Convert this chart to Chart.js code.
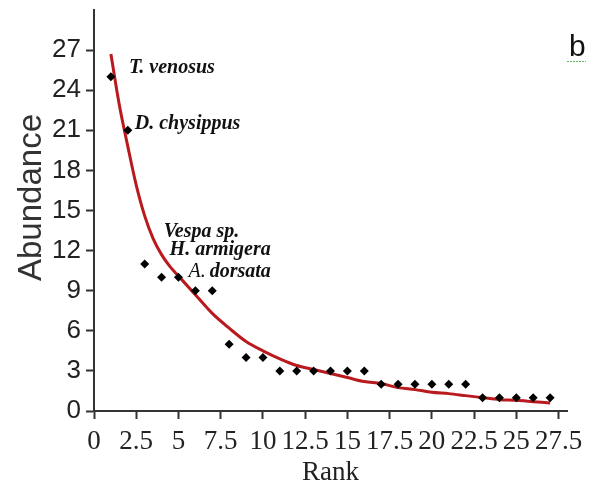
<!DOCTYPE html>
<html>
<head>
<meta charset="utf-8">
<script src="https://cdn.jsdelivr.net/npm/chart.js@4.4.1/dist/chart.umd.min.js"></script>
<style>
  html, body { margin: 0; padding: 0; background: #fff; }
  #wrap { width: 597px; height: 489px; position: relative; }
</style>
</head>
<body>
<div id="wrap"><canvas id="rankChart"></canvas></div>
<script>
// observed abundance per rank
const ranks = [1, 2, 3, 4, 5, 6, 7, 8, 9, 10, 11, 12, 13, 14, 15, 16, 17, 18, 19, 20, 21, 22, 23, 24, 25, 26, 27];
const abundance = [25, 21, 11, 10, 10, 9, 9, 5, 4, 4, 3, 3, 3, 3, 3, 3, 2, 2, 2, 2, 2, 2, 1, 1, 1, 1, 1];

// fitted curve
const fitRank = [1, 1.5, 2, 2.5, 3, 3.5, 4, 4.5, 5, 6, 7, 8, 9, 10, 11, 12, 13, 14, 15, 16, 17, 18, 19, 20, 21, 22, 23, 24, 25, 26, 27];
const fitValue = [26.7, 22.9, 19.8, 16.9, 14.6, 12.9, 11.7, 10.8, 10.1, 8.7, 7.3, 6.2, 5.2, 4.5, 3.9, 3.4, 3.1, 2.8, 2.5, 2.2, 2.05, 1.75, 1.6, 1.4, 1.3, 1.15, 1.0, 0.85, 0.8, 0.7, 0.6];

// species labels and the rank they belong to
const speciesNames = ['T. venosus', 'D. chysippus', 'Vespa sp.', 'H. armigera', 'A. dorsata'];
const speciesRanks = [1, 2, 3, 4, 5];

const labelOffsets = [[18, -4], [7, -1], [19, -27], [8, -22], [10, 0]];

const labelPlugin = {
    id: 'speciesLabels',
    afterDatasetsDraw(chart) {
        const ctx = chart.ctx;
        const xs = chart.scales.x;
        const ys = chart.scales.y;
        const area = chart.chartArea;
        ctx.save();
        ctx.fillStyle = '#111';
        ctx.textBaseline = 'alphabetic';
        ctx.textAlign = 'left';
        speciesNames.forEach((name, i) => {
            const r = speciesRanks[i];
            const px = xs.getPixelForValue(r) + labelOffsets[i][0];
            const py = ys.getPixelForValue(abundance[r - 1]) + labelOffsets[i][1];
            if (name.startsWith('A. ')) {
                ctx.font = 'italic 20px "Liberation Serif"';
                ctx.fillText('A. ', px, py);
                const w = ctx.measureText('A. ').width;
                ctx.font = 'bold italic 20px "Liberation Serif"';
                ctx.fillText(name.slice(3), px + w - 1, py);
            } else {
                ctx.font = 'bold italic 20px "Liberation Serif"';
                ctx.fillText(name, px, py);
            }
        });

        // y axis title, sits a bit above the middle of the axis
        ctx.save();
        ctx.translate(41, (area.top + area.bottom) / 2 - 13);
        ctx.rotate(-Math.PI / 2);
        ctx.textAlign = 'center';
        ctx.font = '33px "Liberation Sans"';
        ctx.fillStyle = '#333';
        ctx.fillText('Abundance', 0, 0);
        ctx.restore();

        // panel letter
        ctx.font = '30px "Liberation Sans"';
        ctx.fillStyle = '#111';
        ctx.fillText('b', 569, 56);
        ctx.strokeStyle = '#5cb85c';
        ctx.lineWidth = 1;
        ctx.setLineDash([2, 1]);
        ctx.beginPath();
        ctx.moveTo(567, 61.5);
        ctx.lineTo(586, 61.5);
        ctx.stroke();
        ctx.restore();
    }
};

const ctx = document.getElementById('rankChart').getContext('2d');
new Chart(ctx, {
    type: 'scatter',
    data: {
        datasets: [{
            label: 'Observed',
            data: ranks.map((r, i) => ({ x: r, y: abundance[i] })),
            pointStyle: 'rectRot',
            pointRadius: 4.5,
            pointBackgroundColor: '#000',
            pointBorderColor: '#000',
            pointBorderWidth: 0,
            showLine: false
        }, {
            label: 'Fit',
            data: fitRank.map((r, i) => ({ x: r, y: fitValue[i] })),
            showLine: true,
            borderColor: '#b81a1e',
            borderWidth: 3,
            pointRadius: 0,
            cubicInterpolationMode: 'monotone',
            fill: false
        }]
    },
    options: {
        responsive: true,
        maintainAspectRatio: false,
        animation: false,
        layout: {
            padding: { top: 10, right: 30, left: 0, bottom: 0 }
        },
        plugins: {
            legend: { display: false },
            tooltip: { enabled: false }
        },
        scales: {
            x: {
                type: 'linear',
                min: 0,
                max: 28,
                border: { display: true, color: '#333', width: 2 },
                grid: { display: true, drawOnChartArea: false, drawTicks: true, tickLength: 8, color: '#333', tickColor: '#333', tickWidth: 2 },
                ticks: {
                    stepSize: 2.5,
                    includeBounds: false,
                    autoSkip: false,
                    maxRotation: 0,
                    padding: 7,
                    color: '#222',
                    font: { family: '"Liberation Serif"', size: 27 },
                    callback: v => String(v)
                },
                title: {
                    display: true,
                    text: 'Rank',
                    color: '#222',
                    font: { family: '"Liberation Serif"', size: 27 },
                    padding: { top: 4, bottom: 0 }
                },
                afterFit: scale => { scale.height = 78; }
            },
            y: {
                min: 0,
                max: 30,
                border: { display: true, color: '#333', width: 2 },
                grid: { display: true, drawOnChartArea: false, drawTicks: true, tickLength: 8, color: '#333', tickColor: '#333', tickWidth: 2 },
                ticks: {
                    stepSize: 3,
                    padding: 5,
                    color: '#222',
                    font: { family: '"Liberation Sans"', size: 26 }
                },
                afterBuildTicks: scale => {
                    scale.ticks = scale.ticks.filter(t => t.value <= 27);
                },
                afterFit: scale => {
                    scale.width = 94;
                    scale.paddingTop = 0;
                    scale.paddingBottom = 0;
                }
            }
        }
    },
    plugins: [labelPlugin]
});
</script>
</body>
</html>
